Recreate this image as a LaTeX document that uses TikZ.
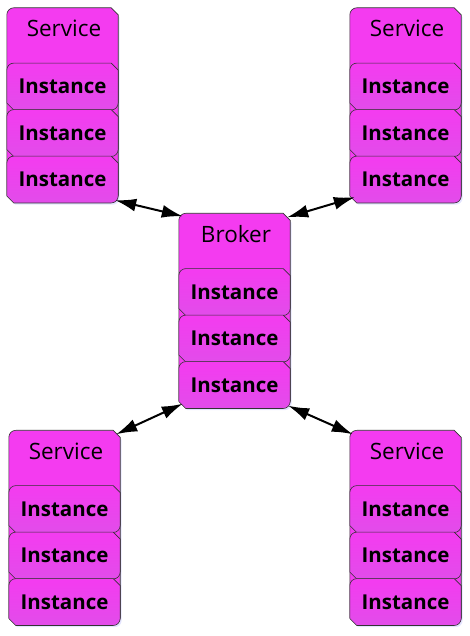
\documentclass[tikz,border=0pt]{standalone}
\usepackage{fontspec}
\setmainfont{Open Sans}
\usetikzlibrary{arrows.meta,backgrounds,shadows}
\definecolor{boxfill}{HTML}{F43BF0}
\definecolor{insttop}{HTML}{F43BF0}
\definecolor{instbot}{HTML}{E24CEA}
\tikzset{
  grp/.style={rectangle,inner sep=0pt,minimum width=111pt,minimum height=194pt},
  inst/.style={rectangle,inner sep=0pt,minimum width=111pt,minimum height=46.5pt,
    font=\fontsize{20.5}{24}\selectfont\bfseries},
  ttl/.style={inner sep=0pt,font=\fontsize{22.5}{26}\selectfont},
  link/.style={line width=2pt},
  tip/.tip={Latex[length=21pt,width=13pt]},
  edge/.style={draw=black!80,line width=0.6pt}
}
\pgfmathsetmacro{\kr}{7}
\pgfmathsetmacro{\kc}{7}
%outline: round top left and bottom right, cut top right and bottom left
\newcommand{\outline}[2]{%
  \begin{pgfonlayer}{background}
  \draw[edge,#2]([yshift=-\kr pt]#1.north west) arc(180:90:\kr pt)
    --([xshift=-\kc pt]#1.north east)--([yshift=-\kc pt]#1.north east)
    --([yshift=\kr pt]#1.south east) arc(0:-90:\kr pt)
    --([xshift=\kc pt]#1.south west)--([yshift=\kc pt]#1.south west)--cycle;
  \end{pgfonlayer}}
%group: name, position, title
\newcommand{\group}[3]{%
  \node[grp](#1) at (#2){};
  \outline{#1}{fill=boxfill,drop shadow={shadow xshift=1.5pt,shadow yshift=-2.5pt,fill=blue!15,opacity=0.7}}
  \node[ttl](#1-t) at ([xshift=1.5pt,yshift=-21pt]#1.north){#3};
  \foreach \i in {1,2,3}{
    \node[inst](#1-\i) at ([yshift={-78.75pt-46.5pt*(\i-1)}]#1.north){Instance};
    \outline{#1-\i}{top color=insttop,bottom color=instbot}
  }}
\begin{document}
\begin{tikzpicture}[x=1pt,y=1pt]
\useasboundingbox(0,0) rectangle (469,636);
%boxes
\group{tl}{62.5,531}{Service}
\group{tr}{405.5,531}{Service}
\group{brk}{234.5,325.5}{Broker}
\group{bl}{64.5,108.5}{Service}
\group{br}{405.5,108.5}{Service}
%links
\draw[link,tip-tip]([shift={(-3,2)}]tl.south east)--([shift={(4,-3)}]brk.north west);
\draw[link,tip-tip]([shift={(5,5)}]tr.south west)--([shift={(-3,-4)}]brk.north east);
\draw[link,tip-tip]([shift={(-4,-4)}]bl.north east)--([shift={(4,4)}]brk.south west);
\draw[link,tip-tip]([shift={(3,-4)}]br.north west)--([shift={(-2,2)}]brk.south east);
\end{tikzpicture}
\end{document}
